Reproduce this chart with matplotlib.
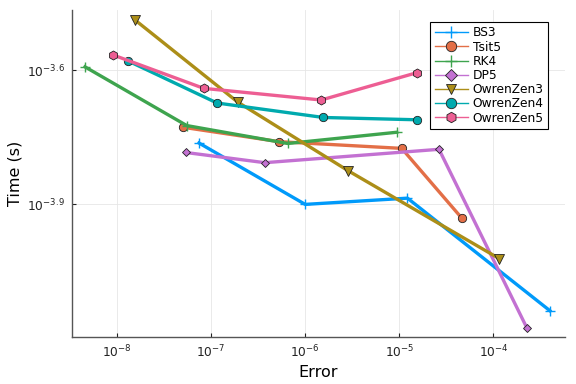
import matplotlib
matplotlib.use("Agg")
import matplotlib.pyplot as plt
from matplotlib.ticker import FixedLocator, NullLocator, FixedFormatter

# Data (error, time)
names = ["BS3", "Tsit5", "RK4", "DP5", "OwrenZen3", "OwrenZen4", "OwrenZen5"]

bs3_err = [7.43e-8, 1.0e-6, 1.22e-5, 3.98e-4]
bs3_time = [1.726e-4, 1.259e-4, 1.300e-4, 7.29e-5]

tsit5_err = [5.07e-8, 5.27e-7, 1.06e-5, 4.63e-5]
tsit5_time = [1.871e-4, 1.738e-4, 1.679e-4, 1.172e-4]

rk4_err = [4.57e-9, 5.51e-8, 6.52e-7, 9.37e-6]
rk4_time = [2.553e-4, 1.888e-4, 1.722e-4, 1.824e-4]

dp5_err = [5.37e-8, 3.72e-7, 2.64e-5, 2.26e-4]
dp5_time = [1.644e-4, 1.560e-4, 1.671e-4, 6.68e-5]

oz3_err = [1.55e-8, 1.92e-7, 2.87e-6, 1.15e-4]
oz3_time = [3.25e-4, 2.13e-4, 1.496e-4, 9.53e-5]

oz4_err = [1.32e-8, 1.156e-7, 1.563e-6, 1.53e-5]
oz4_time = [2.63e-4, 2.12e-4, 1.968e-4, 1.945e-4]

oz5_err = [9.0e-9, 8.34e-8, 1.48e-6, 1.53e-5]
oz5_time = [2.716e-4, 2.286e-4, 2.153e-4, 2.477e-4]

x_ticks = [1e-8, 1e-7, 1e-6, 1e-5, 1e-4]
x_tick_labels = [r"$10^{-8}$", r"$10^{-7}$", r"$10^{-6}$", r"$10^{-5}$", r"$10^{-4}$"]
y_ticks = [10 ** -3.9, 10 ** -3.6]
y_tick_labels = [r"$10^{-3.9}$", r"$10^{-3.6}$"]

series = [
    (bs3_err, bs3_time, "#009AFA", "+"),
    (tsit5_err, tsit5_time, "#E36F47", "o"),
    (rk4_err, rk4_time, "#3EA44E", "+"),
    (dp5_err, dp5_time, "#C371D2", "D"),
    (oz3_err, oz3_time, "#AC8E18", "v"),
    (oz4_err, oz4_time, "#00AAAE", "o"),
    (oz5_err, oz5_time, "#ED5E93", "h"),
]

fig = plt.figure(figsize=(5.76, 3.84), dpi=100)
ax = fig.add_axes([0.125, 0.1224, 0.856, 0.8516])

for name, (xs, ys, col, mk) in zip(names, series):
    if mk == "+":
        ax.plot(xs, ys, color=col, lw=2.4, marker="+", markersize=7,
                markeredgewidth=1.0, markeredgecolor=col, label=name)
    else:
        ms = {"o": 6, "D": 4.5, "v": 6.5, "h": 6.5}[mk]
        ax.plot(xs, ys, color=col, lw=2.4, marker=mk, markersize=ms,
                markerfacecolor=col, markeredgecolor="#222222",
                markeredgewidth=0.6, label=name)

ax.set_xscale("log")
ax.set_yscale("log")
ax.set_xlim(10 ** -8.478, 10 ** -3.239)
ax.set_ylim(10 ** -4.196, 10 ** -3.466)

ax.xaxis.set_major_locator(FixedLocator(x_ticks))
ax.xaxis.set_major_formatter(FixedFormatter(x_tick_labels))
ax.xaxis.set_minor_locator(NullLocator())
ax.yaxis.set_major_locator(FixedLocator(y_ticks))
ax.yaxis.set_major_formatter(FixedFormatter(y_tick_labels))
ax.yaxis.set_minor_locator(NullLocator())

ax.grid(True, color="#e6e6e6", lw=0.6)
ax.set_axisbelow(True)
for s in ["top", "right"]:
    ax.spines[s].set_visible(False)
for s in ["left", "bottom"]:
    ax.spines[s].set_color("#555555")
    ax.spines[s].set_linewidth(1.0)
ax.tick_params(direction="in", length=3, width=0.8, labelsize=8.8, colors="#222222", pad=5)

ax.set_xlabel("Error", fontsize=11.5, labelpad=3)
ax.set_ylabel("Time (s)", fontsize=11.5, labelpad=3)

leg = ax.legend(loc="upper right", bbox_to_anchor=(0.9655, 0.963), fontsize=8.8,
                frameon=True, fancybox=False, edgecolor="black", framealpha=1,
                handlelength=2.7, borderpad=0.35, labelspacing=0.1, handletextpad=0.4,
                borderaxespad=0)
leg.get_frame().set_linewidth(0.8)
for ln in leg.get_lines():
    ln.set_linewidth(1.0)
    if ln.get_marker() in ("o", "v", "h"):
        ln.set_markersize(7.5)
    elif ln.get_marker() == "D":
        ln.set_markersize(6)
    else:
        ln.set_markersize(9)

fig.savefig("out.png", dpi=100)
